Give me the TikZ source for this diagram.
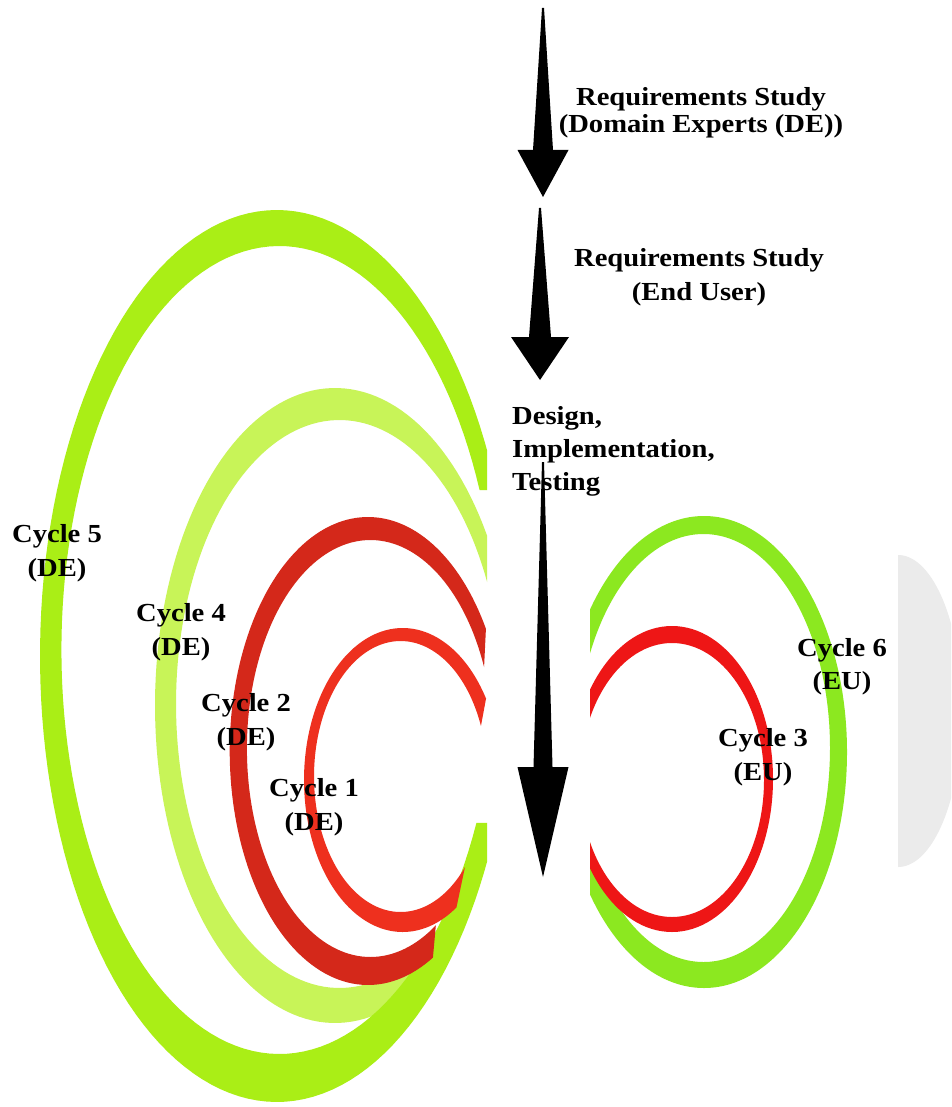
\documentclass[tikz,border=0pt]{standalone}
\usepackage{fontspec}
\setmainfont{Liberation Serif}[FakeStretch=1.1]
\usetikzlibrary{calc}

\definecolor{limeA}{RGB}{170,238,22}
\definecolor{limeB}{RGB}{200,244,88}
\definecolor{redA}{RGB}{212,40,26}
\definecolor{redB}{RGB}{238,48,30}
\definecolor{greenC}{RGB}{140,232,32}
\definecolor{redC}{RGB}{238,22,22}
\definecolor{haze}{RGB}{235,235,235}

% tapered block arrow: top, tip, head length, head half width, shaft half width
\newcommand\taperarrow[5]{%
  \fill[black] ($(#1)+(-1,0)$) -- ($(#1)+(1,0)$) -- ($(#2)+(#5,-#3)$)
    -- ($(#2)+(#4,-#3)$) -- (#2) -- ($(#2)+(-#4,-#3)$) -- ($(#2)+(-#5,-#3)$) -- cycle;}

\begin{document}
\begin{tikzpicture}[x=1pt,y=-1pt,
  lbl/.style={font=\fontsize{26}{#1}\selectfont\bfseries, align=center,
              inner sep=0pt, text=black},
  lbl/.default=34,
  arc/.style={samples=140}]

\useasboundingbox (0,0) rectangle (951,1107);
\fill[white] (0,0) rectangle (951,1107);

% grey half disc at the right border
\begin{scope}
  \clip (0,0) rectangle (951,1107);
  \fill[haze] plot[domain=-90:90,samples=73] ({898+64*cos(\x)},{711+156*sin(\x)}) -- cycle;
\end{scope}

% ---- domain expert cycles: crescents open to the right ----
% each one: outer ellipse from its lower end round to its upper end,
% then the inner ellipse back again; everything is cut at the arrow lane
\begin{scope}
  \clip (0,0) rectangle (487,1107);
  % cycle 4
  \fill[limeB]
    plot[arc,domain=47:337.7] ({335+180*cos(\x)},{705.5+317.5*sin(\x)})
    -- plot[arc,domain=48:334.6] ({339.5+163.5*cos(382.6-\x)},{704+284*sin(382.6-\x)}) -- cycle;
  % cycle 5
  \fill[limeA]
    plot[arc,domain=21.99:338.15] ({276.9+236.9*cos(\x)},{656+446*sin(\x)})
    -- plot[arc,domain=25.35:336.67] ({279.4+218*cos(362.02-\x)},{650+404*sin(362.02-\x)}) -- cycle;
  % cycle 2
  \fill[redA]
    plot[arc,domain=62:328.5] ({368+138.3*cos(\x)},{751+234*sin(\x)})
    -- plot[arc,domain=58:337] ({370.4+123.5*cos(395-\x)},{748.5+208.5*sin(395-\x)}) -- cycle;
  % cycle 1
  \fill[redB]
    plot[arc,domain=57:327.6] ({402.7+98.7*cos(\x)},{780+152*sin(\x)})
    -- plot[arc,domain=42:338.1] ({400.6+86.6*cos(380.1-\x)},{776.5+135.5*sin(380.1-\x)}) -- cycle;
\end{scope}

% ---- end user cycles: rings cut open on the left ----
\begin{scope}
  \clip (590,0) rectangle (951,1107);
  \fill[greenC,even odd rule]
    (704,752) ellipse [x radius=143, y radius=236]
    (703.5,748) ellipse [x radius=126.5, y radius=214];
  \fill[redC,even odd rule]
    (672,779) ellipse [x radius=101, y radius=153]
    (672,780) ellipse [x radius=92, y radius=137];
\end{scope}

% ---- labels ----
\node[lbl=27] (req1) at (701,113) {Requirements Study\\(Domain Experts (DE))};
\node[lbl=34] (req2) at (699,277) {Requirements Study\\(End User)};
\node[lbl=33,align=left,anchor=west] (dit) at (512,451) {Design,\\Implementation,\\Testing};
\node[lbl] (c5) at (57,553)  {Cycle 5\\(DE)};
\node[lbl] (c4) at (181,632) {Cycle 4\\(DE)};
\node[lbl] (c2) at (246,722) {Cycle 2\\(DE)};
\node[lbl] (c1) at (314,807) {Cycle 1\\(DE)};
\node[lbl=33] (c6) at (842,667) {Cycle 6\\(EU)};
\node[lbl] (c3) at (763,757) {Cycle 3\\(EU)};

% ---- process arrows ----
\coordinate (a1s) at (543,8);   \coordinate (a1e) at (543,197);
\coordinate (a2s) at (540,208); \coordinate (a2e) at (540,380);
\coordinate (a3s) at (543,462); \coordinate (a3e) at (543,877);
\taperarrow{a1s}{a1e}{47}{25.5}{10}
\taperarrow{a2s}{a2e}{43}{29}{11}
\taperarrow{a3s}{a3e}{110}{25.5}{9.5}
\end{tikzpicture}
\end{document}
